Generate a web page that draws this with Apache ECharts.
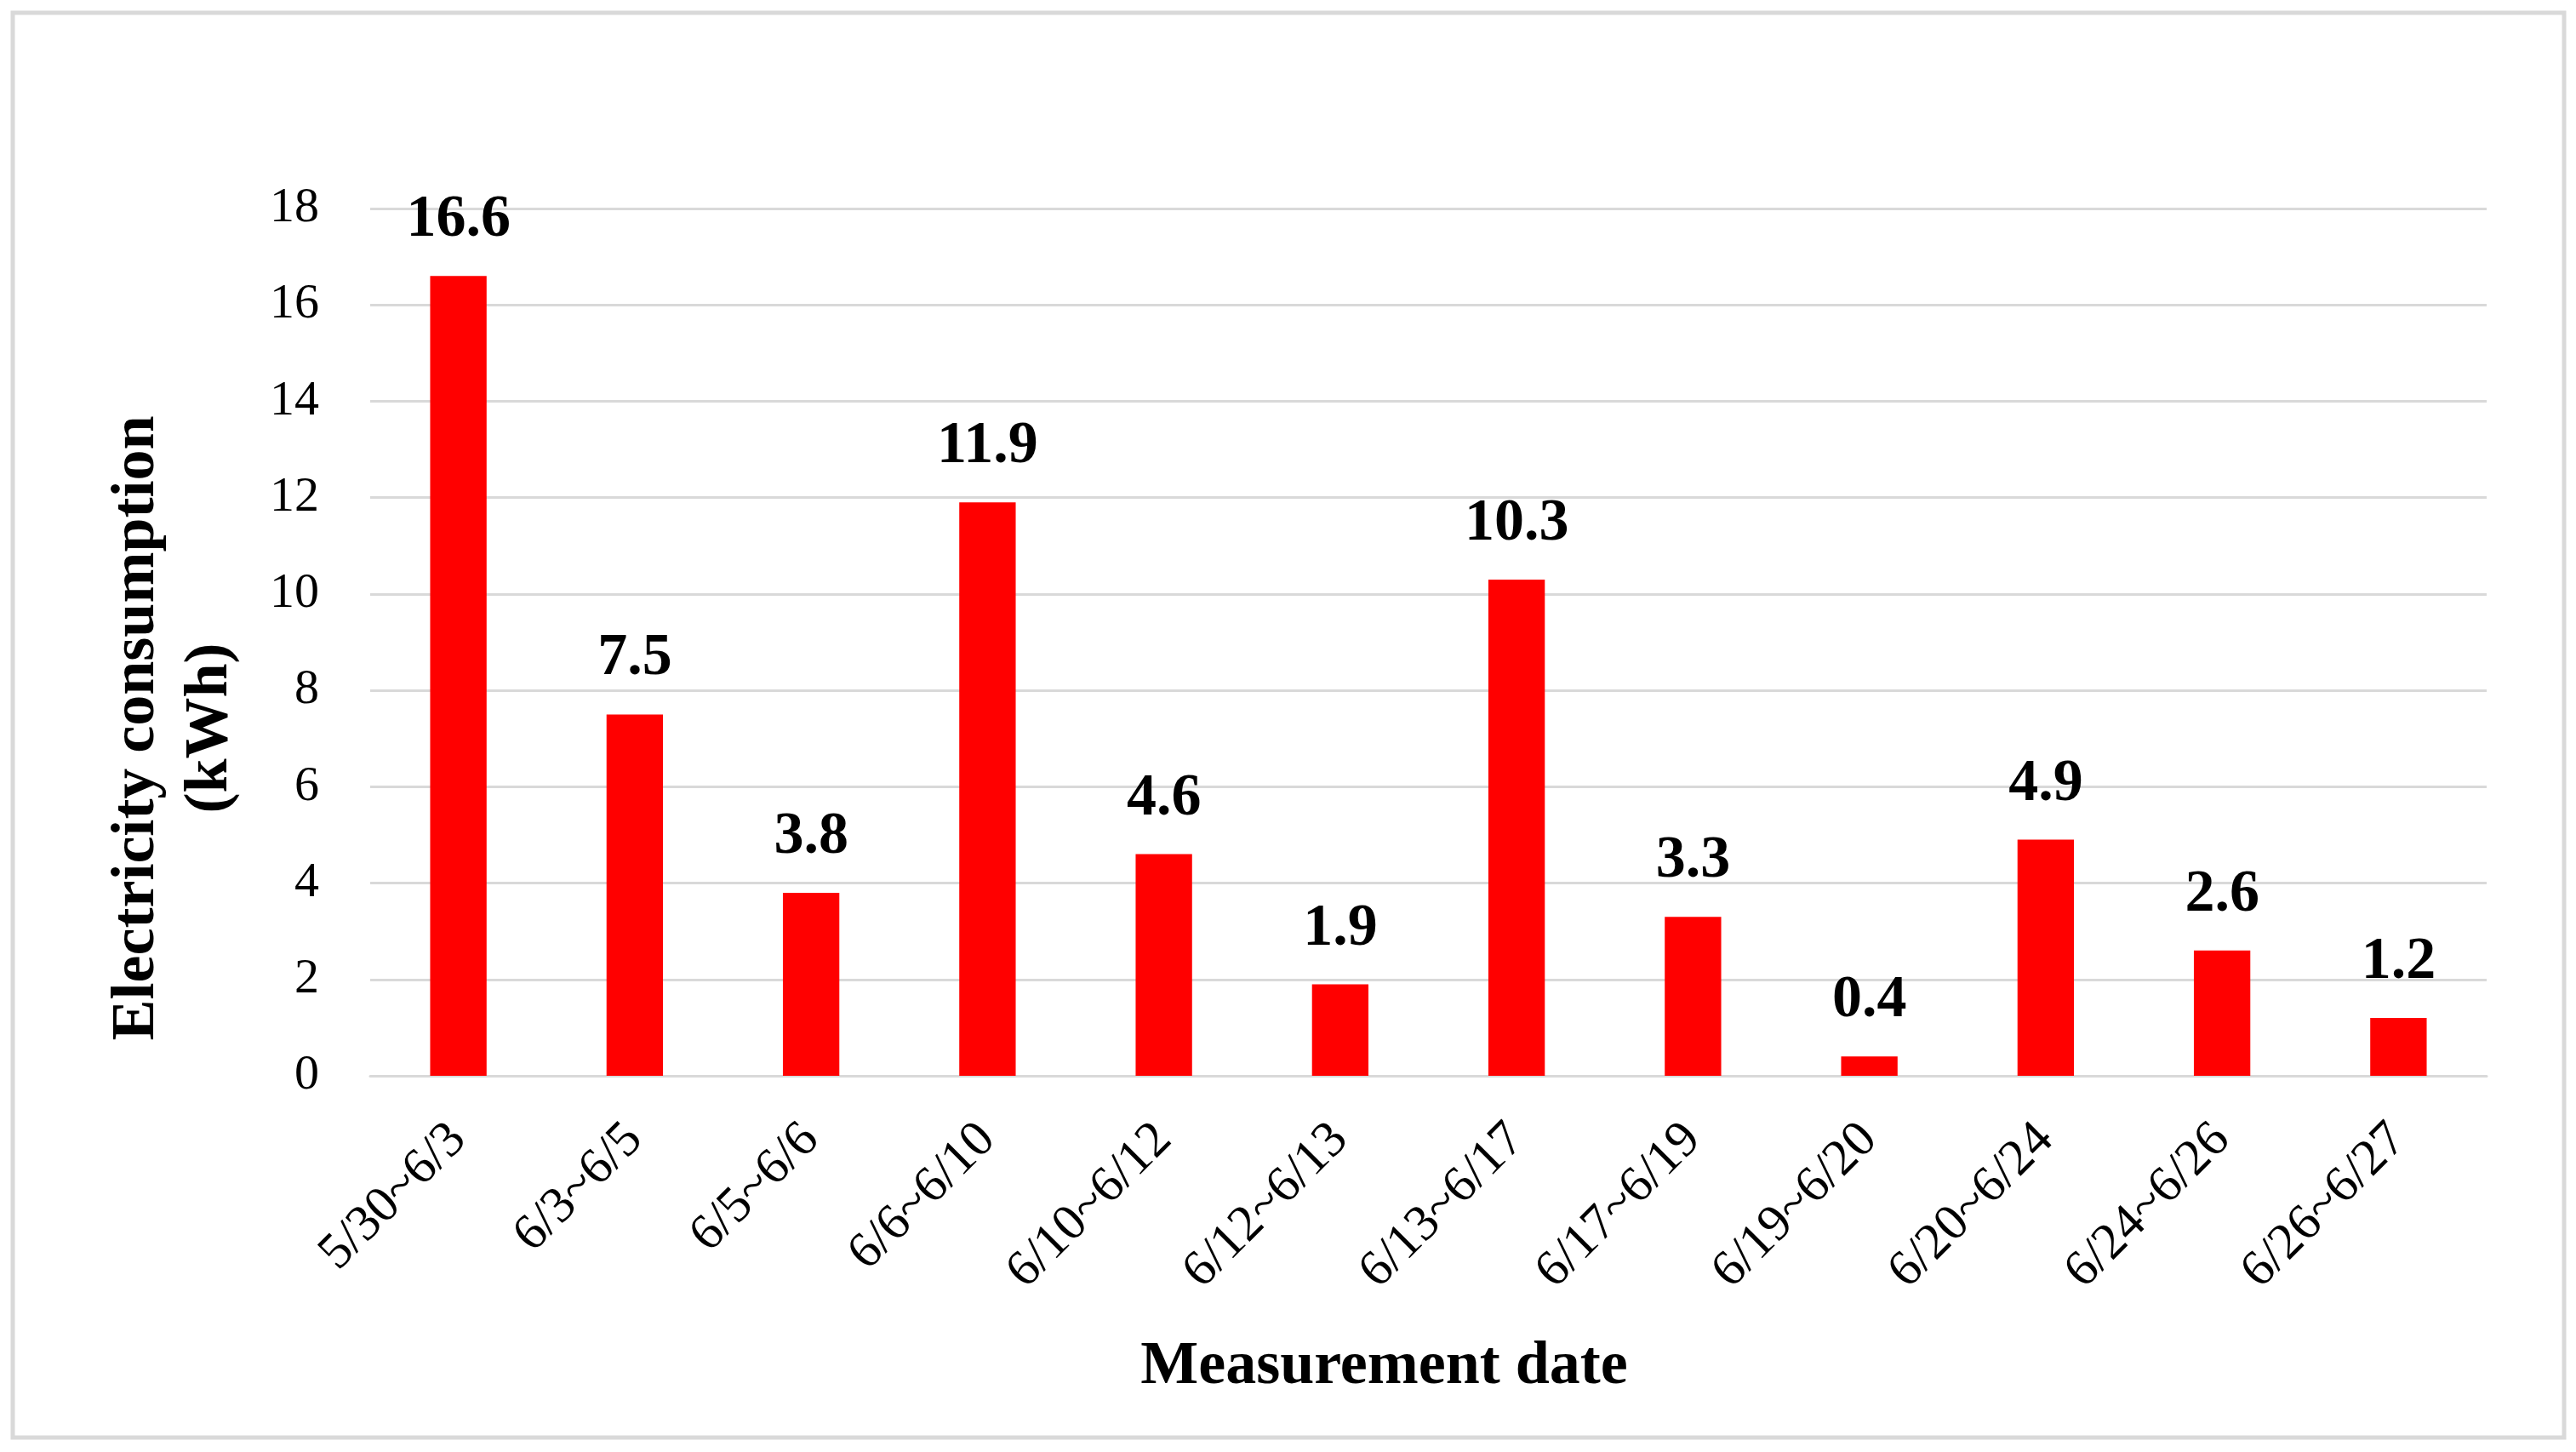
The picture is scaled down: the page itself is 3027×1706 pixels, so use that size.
<!DOCTYPE html>
<html>
<head>
<meta charset="utf-8">
<title>Electricity consumption</title>
<script src="https://cdn.jsdelivr.net/npm/echarts@6/dist/echarts.min.js"></script>
<style>
  html, body { margin: 0; padding: 0; background: #fff; }
  #chart { width: 3027px; height: 1706px; }
</style>
</head>
<body>
<div id="chart"></div>
<script>
// measurement periods (x axis)
var periods = ['5/30~6/3', '6/3~6/5', '6/5~6/6', '6/6~6/10', '6/10~6/12', '6/12~6/13',
  '6/13~6/17', '6/17~6/19', '6/19~6/20', '6/20~6/24', '6/24~6/26', '6/26~6/27'];
// electricity consumption in kWh
var consumption = [16.6, 7.5, 3.8, 11.9, 4.6, 1.9, 10.3, 3.3, 0.4, 4.9, 2.6, 1.2];
// y axis ticks
var yMin = 0;
var yMax = 18;
var yStep = 2;

var serif = "'Liberation Serif', 'Times New Roman', serif";
var gridGray = '#d9d9d9';

var myChart = echarts.init(document.getElementById('chart'));

var option = {
  backgroundColor: '#fff',
  animation: false,
  // light frame round the whole chart
  graphic: [{
    type: 'rect',
    shape: { x: 15, y: 15, width: 2998, height: 1674 },
    style: { fill: 'none', stroke: gridGray, lineWidth: 5 },
    silent: true
  }],
  grid: {
    left: 435,
    right: 105,
    top: 245,
    bottom: 442,
    containLabel: false
  },
  xAxis: {
    type: 'category',
    data: periods,
    name: 'Measurement date',
    nameLocation: 'middle',
    nameGap: 306,
    nameTextStyle: {
      fontFamily: serif,
      fontWeight: 'bold',
      fontSize: 72,
      color: '#000',
      padding: [0, 104, 0, 0]
    },
    axisLine: { lineStyle: { color: gridGray, width: 3 } },
    axisTick: { show: false },
    axisLabel: {
      rotate: 45,
      margin: 66,
      interval: 0,
      fontFamily: serif,
      fontSize: 60,
      color: '#000'
    }
  },
  yAxis: {
    type: 'value',
    min: yMin,
    max: yMax,
    interval: yStep,
    name: 'Electricity consumption\n(kWh)',
    nameLocation: 'middle',
    nameRotate: 90,
    nameGap: 145,
    nameTextStyle: {
      fontFamily: serif,
      fontWeight: 'bold',
      fontSize: 72,
      lineHeight: 86,
      color: '#000',
      padding: [0, 202, 0, 0]
    },
    axisLine: { show: false },
    axisTick: { show: false },
    splitLine: { lineStyle: { color: gridGray, width: 3 } },
    axisLabel: {
      margin: 60,
      fontFamily: serif,
      fontSize: 58,
      color: '#000'
    }
  },
  series: [{
    type: 'bar',
    data: consumption,
    barWidth: '32%',
    itemStyle: { color: '#ff0000' },
    label: {
      show: true,
      position: 'top',
      distance: 30,
      fontFamily: serif,
      fontWeight: 'bold',
      fontSize: 70,
      color: '#000'
    }
  }]
};

myChart.setOption(option);
</script>
</body>
</html>
